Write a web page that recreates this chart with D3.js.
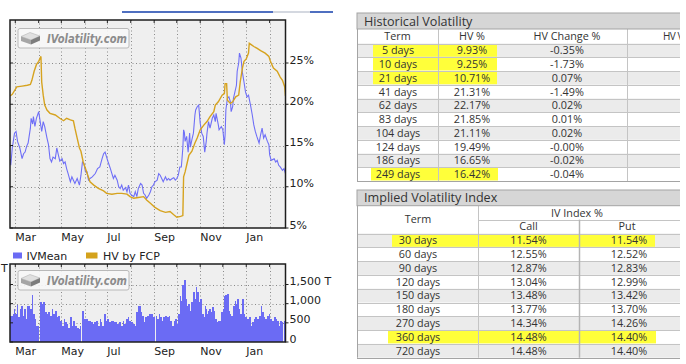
<!DOCTYPE html>
<html><head><meta charset="utf-8">
<script src="https://cdn.jsdelivr.net/npm/d3@7"></script>
<style>body{margin:0;background:#fff}svg{display:block}</style>
</head><body>
<svg id="c" width="686" height="364"></svg>
<script>
// ---------------- DATA ----------------
const startDate = new Date(2023, 1, 22);
const endDate = new Date(2024, 1, 22);
const xTickLabels = ["Mar", "May", "Jul", "Sep", "Nov", "Jan"];
const volTickValues = [0, 500, 1000, 1500];
const volTickLabels = ["0", "500", "1,000", "1,500 T"];
const pctTickValues = [5, 10, 15, 20, 25];
const pctTickLabels = ["5%", "10%", "15%", "20%", "25%"];
const legendNames = ["IVMean", "HV by FCP"];

// days after startDate
const hvDays = [0,3,9,16,23,27,29,32,35,38,41,42,44,46,49,53,60,66,71,75,80,84,86,89,92,94,97,100,103,106,111,117,124,128,135,142,148,155,159,164,170,177,181,186,192,199,206,212,217,221,226,229,230,232,235,237,241,245,248,252,257,261,265,270,272,276,281,284,285,287,288,292,295,299,303,305,308,310,313,316,317,320,323,327,332,338,343,345,349,354,358,361,364,365];
const hvValues = [21.0,21.2,22.1,22.2,22.3,22.4,22.9,24.0,24.8,25.2,25.8,22.7,21.1,19.9,19.3,18.9,18.7,18.3,18.0,18.3,18.1,18.0,17.1,15.9,14.7,14.3,13.0,12.2,11.4,10.6,10.2,9.8,9.5,9.2,9.1,9.2,9.2,9.1,8.8,8.6,8.7,8.8,8.4,8.0,7.5,7.1,6.9,7.0,6.6,6.3,6.4,6.5,11.2,11.8,13.0,13.8,14.3,15.3,15.9,16.9,17.5,17.9,18.5,19.1,19.9,20.3,21.1,21.3,22.5,22.5,20.5,20.1,20.3,20.9,21.1,22.7,24.4,25.2,25.5,26.2,27.4,27.2,27.0,26.8,26.5,26.2,25.8,25.2,24.4,24.0,23.3,22.9,22.1,21.0];

const ivDays = [0,1,3,6,8,10,13,16,18,20,22,24,27,28,30,31,33,35,38,40,42,44,46,49,51,53,55,57,60,62,64,66,69,71,73,75,77,80,82,84,86,89,92,94,96,98,100,102,104,106,109,113,116,119,122,124,126,128,130,133,135,137,139,142,144,146,148,150,153,155,157,159,161,164,166,168,170,173,175,177,179,181,184,186,188,190,192,195,197,199,201,203,206,208,210,212,215,217,219,221,223,225,227,229,230,231,232,234,236,238,239,241,243,245,246,248,250,252,254,256,258,260,261,263,265,268,270,272,273,276,277,280,282,284,285,286,288,290,292,293,295,296,298,300,301,303,304,306,308,310,312,314,316,319,321,323,325,327,330,332,334,336,338,341,343,344,346,350,352,354,356,358,361,363,365];
const ivValues = [13.4,12.6,14.7,16.5,16.7,15.5,14.7,13.4,14.0,14.2,14.9,15.3,17.1,18.3,17.6,18.5,17.3,18.3,19.1,17.9,16.7,17.9,17.3,15.9,15.1,13.4,13.0,13.6,13.4,14.7,13.9,13.1,13.4,12.8,13.0,12.2,11.6,10.6,11.2,10.8,10.4,11.0,10.2,11.4,13.0,12.8,11.8,11.8,10.8,11.0,11.2,11.6,12.2,12.4,13.4,14.0,14.2,13.6,13.0,12.2,11.6,11.0,11.4,10.8,10.0,9.8,10.2,9.6,9.9,9.4,10.2,9.2,9.0,8.8,9.4,8.8,9.8,10.4,10.2,9.2,9.0,8.6,9.0,9.4,10.0,10.2,10.6,10.8,11.6,11.4,11.0,10.6,11.2,10.8,11.0,10.8,11.0,11.1,10.8,11.0,11.4,12.4,12.4,14.7,16.9,16.6,15.5,16.1,14.2,16.5,14.8,15.7,16.5,18.7,19.3,19.7,19.9,17.7,16.5,16.1,14.2,15.5,16.5,17.9,17.1,18.3,18.7,17.9,18.9,17.5,16.9,17.3,16.9,15.1,16.3,19.3,20.7,20.9,20.3,19.1,19.7,20.7,21.5,22.3,24.0,25.0,26.2,25.6,23.8,22.7,21.5,20.9,21.1,19.7,18.7,17.5,16.7,16.1,15.3,16.3,17.1,15.9,16.3,15.5,15.1,13.9,13.2,13.4,13.0,13.2,12.6,12.4,12.0,12.2,11.6];

const volDays = [0,4,5,7,9,11,13,15,17,19,21,23,26,27,29,31,33,35,38,40,42,44,46,49,51,53,55,57,60,62,64,66,69,71,73,75,77,80,82,84,86,89,91,93,94,96,98,101,103,105,107,110,111,114,116,119,120,122,124,125,127,129,131,134,136,138,141,142,145,147,150,151,154,156,158,160,163,165,167,169,170,173,175,177,179,181,184,186,188,190,192,193,195,197,199,201,203,206,208,210,212,215,217,219,221,223,225,227,228,230,231,233,235,236,238,239,240,242,243,245,246,248,250,252,254,257,258,260,261,262,264,266,268,270,272,274,276,279,280,282,284,285,288,290,292,293,295,296,298,300,301,303,305,308,310,312,314,316,319,321,323,325,327,330,332,334,336,338,341,343,345,347,350,352,354,356,358,361,362,363];
const volValues = [680,730,860,730,965,640,860,945,680,860,600,945,1080,860,1230,730,600,420,0,1035,990,1035,770,730,790,680,860,730,815,640,680,555,420,600,510,465,375,640,420,555,420,375,335,420,0,815,600,600,555,555,510,465,510,555,420,600,510,420,945,730,555,600,510,555,555,510,525,465,510,420,555,465,600,640,555,510,465,420,770,1035,945,770,680,510,640,680,730,730,730,640,0,680,600,730,640,555,640,680,640,680,555,420,555,600,465,730,1210,1080,1475,1780,1605,1125,945,990,600,815,1035,1385,1300,1125,1430,1300,1035,1125,730,640,945,860,730,815,860,770,905,815,600,510,555,730,770,860,1210,1230,1255,815,730,680,860,945,1080,990,1125,860,730,1125,730,640,600,640,420,510,600,640,600,680,945,770,640,600,680,730,600,555,640,600,555,420,555,510,0,555];

// tables
const hvColumns = ["Term", "HV %", "HV Change %", "HV Volatility"];
const hvTerms = ["5 days","10 days","21 days","41 days","62 days","83 days","104 days","124 days","186 days","249 days"];
const hvPct = ["9.93%","9.25%","10.71%","21.31%","22.17%","21.85%","21.11%","19.49%","16.65%","16.42%"];
const hvChange = ["-0.35%","-1.73%","0.07%","-1.49%","0.02%","0.01%","0.02%","-0.00%","-0.02%","-0.04%"];
const hvHighlightRows = [0, 1, 2, 9];
const ivTerms = ["30 days","60 days","90 days","120 days","150 days","180 days","270 days","360 days","720 days"];
const ivCall = ["11.54%","12.55%","12.87%","13.04%","13.48%","13.77%","14.34%","14.48%","14.48%"];
const ivPut = ["11.54%","12.52%","12.83%","12.99%","13.42%","13.70%","14.26%","14.40%","14.40%"];
const ivHighlightRows = [0, 7];

// ---------------- DRAW ----------------
const svg = d3.select("#c");
const cf = "'DejaVu Sans', Verdana, sans-serif";
const tf = "'Open Sans', 'Noto Sans', sans-serif";
const IVC = "#6f6ff7", HVC = "#d6a31f", BARC = "#6b6bf4";
const day = d => d3.timeDay.offset(startDate, d);

// top scroll line
[[122, 273, "#4f6fc0"], [273, 310, "#d4d8e0"], [310, 333, "#4f6fc0"]].forEach(s =>
  svg.append("line").attr("x1", s[0]).attr("x2", s[1]).attr("y1", 12).attr("y2", 12)
    .attr("stroke", s[2]).attr("stroke-width", 2));

const x = d3.scaleTime().domain([startDate, endDate]).range([10, 285.5]);
const PL = 10, PR = 285.5;
const months = d3.timeMonth.range(d3.timeMonth.ceil(startDate), endDate);
const fmtM = d3.timeFormat("%b");
const labelMonths = months.filter(m => xTickLabels.includes(fmtM(m)));

function logo(g, lx, ly) {
  const lg = g.append("g").attr("transform", `translate(${lx},${ly})`);
  lg.append("rect").attr("width", 111).attr("height", 19.5).attr("rx", 2)
    .attr("fill", "#f7f7f7").attr("fill-opacity", 0.9).attr("stroke", "#b9b9b9");
  lg.append("polygon").attr("points", "3,8 12,4 22,7.5 13,11.5").attr("fill", "#e0e0e0").attr("stroke", "#aaa").attr("stroke-width", 0.5);
  lg.append("polygon").attr("points", "3,8 13,11.5 13,16 3,12.5").attr("fill", "#a6a6a6");
  lg.append("polygon").attr("points", "13,11.5 22,7.5 22,12 13,16").attr("fill", "#7d7d7d");
  lg.append("text").attr("x", 29).attr("y", 14.5).text("IVolatility.com")
    .attr("font-family", cf).attr("font-size", 12).attr("font-weight", "bold").attr("font-style", "italic")
    .attr("fill", "#8c8c8c").attr("textLength", 80).attr("lengthAdjust", "spacingAndGlyphs");
}

function panel(top, bottom, yScale, yTicks, yLabels, gridTicks) {
  const g = svg.append("g");
  g.append("rect").attr("x", PL).attr("y", top).attr("width", PR - PL).attr("height", bottom - top).attr("fill", "#efefef");
  g.selectAll(".vg").data(months).join("line")
    .attr("x1", d => Math.round(x(d)) + 0.5).attr("x2", d => Math.round(x(d)) + 0.5)
    .attr("y1", top).attr("y2", bottom).attr("stroke", "#8a8a8a").attr("stroke-dasharray", "1,2.5");
  g.selectAll(".hg").data(gridTicks).join("line")
    .attr("x1", PL).attr("x2", PR).attr("y1", d => Math.round(yScale(d)) + 0.5).attr("y2", d => Math.round(yScale(d)) + 0.5)
    .attr("stroke", "#8a8a8a").attr("stroke-dasharray", "1,2.5");
  return g;
}
function frame(g, top, bottom, yScale, yTicks, yLabels, labelY) {
  g.append("rect").attr("x", PL).attr("y", top).attr("width", PR - PL).attr("height", bottom - top)
    .attr("fill", "none").attr("stroke", "#1e1e1e").attr("stroke-width", 1.5);
  g.selectAll(".tt").data(months).join("line")
    .attr("x1", d => x(d)).attr("x2", d => x(d)).attr("y1", top).attr("y2", top + 3).attr("stroke", "#1e1e1e");
  g.selectAll(".lt").data(yTicks).join("line")
    .attr("x1", PL).attr("x2", PL + 3).attr("y1", d => yScale(d)).attr("y2", d => yScale(d)).attr("stroke", "#1e1e1e");
  g.selectAll(".rt").data(yTicks).join("line")
    .attr("x1", PR).attr("x2", PR + 3).attr("y1", d => yScale(d)).attr("y2", d => yScale(d)).attr("stroke", "#1e1e1e");
  g.selectAll(".yl").data(yTicks).join("text")
    .attr("x", PR + 4).attr("y", d => yScale(d) + 0.5).text((d, i) => yLabels[i])
    .attr("font-family", cf).attr("font-size", 11).attr("fill", "#222");
  g.selectAll(".xl").data(labelMonths).join("text")
    .attr("x", d => x(d)).attr("y", labelY).text(d => fmtM(d))
    .attr("font-family", cf).attr("font-size", 11).attr("fill", "#222");
}

// main chart
const MT = 20, MB = 228;
const y = d3.scaleLinear().domain([5, 25]).range([MB, 63]);
const gm = panel(MT, MB, y, pctTickValues, pctTickLabels, pctTickValues.slice(1));
logo(gm, 18, 28.5);
svg.append("clipPath").attr("id", "cm").append("rect").attr("x", PL).attr("y", MT).attr("width", PR - PL).attr("height", MB - MT);
const line = d3.line().x(d => x(day(d[0]))).y(d => y(d[1]));
gm.append("path").datum(ivDays.map((d, i) => [d, ivValues[i]])).attr("d", line)
  .attr("fill", "none").attr("stroke", IVC).attr("stroke-width", 1.1).attr("clip-path", "url(#cm)");
gm.append("path").datum(hvDays.map((d, i) => [d, hvValues[i]])).attr("d", line)
  .attr("fill", "none").attr("stroke", HVC).attr("stroke-width", 1.4).attr("clip-path", "url(#cm)");
frame(gm, MT, MB, y, pctTickValues, pctTickLabels, 241);

// legend
const leg = svg.append("g");
[[13, IVC, 26.5], [86, HVC, 103]].forEach((l, i) => {
  leg.append("rect").attr("x", l[0]).attr("y", 252.5).attr("width", i ? 11.5 : 9).attr("height", 6).attr("fill", i ? "#d4a21c" : BARC);
  leg.append("text").attr("x", l[2]).attr("y", 259.5).text(legendNames[i])
    .attr("font-family", cf).attr("font-size", 11).attr("fill", "#222");
});

// volume chart
const VT = 264, VB = 342;
const yv = d3.scaleLinear().domain([0, 1500]).range([VB, 284.5]);
const gv = panel(VT, VB, yv, volTickValues, volTickLabels, volTickValues.slice(1));
gv.selectAll(".bar").data(volDays).join("rect")
  .attr("x", d => x(day(d)))
  .attr("width", (d, i) => (i < volDays.length - 1 ? x(day(volDays[i + 1])) : PR) - x(day(d)))
  .attr("y", (d, i) => yv(volValues[i])).attr("height", (d, i) => VB - yv(volValues[i]))
  .attr("fill", BARC).attr("shape-rendering", "crispEdges");
logo(gv, 18, 270.5);
frame(gv, VT, VB, yv, volTickValues, volTickLabels, 355);
svg.append("text").attr("x", 1).attr("y", 272).text("T").attr("font-family", cf).attr("font-size", 11).attr("fill", "#222");

// ---------------- TABLES ----------------
svg.append("clipPath").attr("id", "ct").append("rect").attr("x", 0).attr("y", 0).attr("width", 680).attr("height", 364);
const tg = svg.append("g").attr("clip-path", "url(#ct)");
const TL = 357, TR = 700;
const LINE = "#c4c4c4", BORDER = "#a4a4a4", ALT = "#ebebeb", YEL = "#ffff3a", TXT = "#333";
function txt(g, xx, yy, s, anchor, size) {
  return g.append("text").attr("x", xx).attr("y", yy).attr("dy", "0.36em").text(s)
    .attr("text-anchor", anchor || "middle").attr("font-family", tf).attr("font-size", size || 10.8).attr("fill", TXT);
}
function title(g, t0, t1, s) {
  g.append("rect").attr("x", TL).attr("y", t0).attr("width", TR - TL).attr("height", t1 - t0)
    .attr("fill", "#d6d6d6").attr("stroke", BORDER);
  g.append("text").attr("x", TL + 7).attr("y", (t0 + t1) / 2).attr("dy", "0.36em").text(s)
    .attr("font-family", tf).attr("font-size", 12.6).attr("fill", TXT);
}

// Historical volatility
(function () {
  const g = tg.append("g");
  const T0 = 13, T1 = 29, H1 = 43.5, RH = 13.75;
  const rowsY = hvTerms.map((_, i) => H1 + i * RH);
  const B = H1 + hvTerms.length * RH;
  g.append("rect").attr("x", TL).attr("y", T1).attr("width", TR - TL).attr("height", B - T1).attr("fill", "#fff");
  g.selectAll(".alt").data(rowsY.filter((_, i) => i % 2 === 0)).join("rect")
    .attr("x", TL).attr("y", d => d).attr("width", TR - TL).attr("height", RH).attr("fill", ALT);
  g.selectAll(".hl").data(hvHighlightRows).join("rect")
    .attr("x", d => d === 9 ? 371 : 373).attr("y", d => rowsY[d] + 0.5).attr("width", d => d === 9 ? 127 : 124).attr("height", RH - 1).attr("fill", YEL);
  g.selectAll(".rl").data(rowsY.concat([B])).join("line")
    .attr("x1", TL).attr("x2", TR).attr("y1", d => Math.round(d) + 0.5).attr("y2", d => Math.round(d) + 0.5).attr("stroke", LINE);
  [438, 627].forEach(cx => g.append("line").attr("x1", cx + 0.5).attr("x2", cx + 0.5).attr("y1", T1).attr("y2", B).attr("stroke", LINE));
  g.append("line").attr("x1", TL + 0.5).attr("x2", TL + 0.5).attr("y1", T1).attr("y2", B).attr("stroke", BORDER);
  g.append("line").attr("x1", TL).attr("x2", TR).attr("y1", Math.round(B) + 0.5).attr("y2", Math.round(B) + 0.5).attr("stroke", BORDER);
  title(g, T0, T1, "Historical Volatility");
  const hy = (T1 + H1) / 2;
  txt(g, 397.5, hy, hvColumns[0]); txt(g, 472, hy, hvColumns[1]); txt(g, 567, hy, hvColumns[2]);
  txt(g, 663, hy, hvColumns[3], "start", 10).attr("letter-spacing", -0.5);
  hvTerms.forEach((t, i) => {
    const cy = rowsY[i] + RH / 2;
    txt(g, 398, cy, t); txt(g, 472, cy, hvPct[i]); txt(g, 567, cy, hvChange[i]);
  });
})();

// Implied volatility index
(function () {
  const g = tg.append("g");
  const T0 = 190, T1 = 205.7, HM = 219.6, H1 = 233.5, RH = 13.8;
  const rowsY = ivTerms.map((_, i) => H1 + i * RH);
  const B = H1 + ivTerms.length * RH;
  g.append("rect").attr("x", TL).attr("y", T1).attr("width", TR - TL).attr("height", B - T1).attr("fill", "#fff");
  g.selectAll(".alt").data(rowsY.filter((_, i) => i % 2 === 0)).join("rect")
    .attr("x", TL).attr("y", d => d).attr("width", TR - TL).attr("height", RH).attr("fill", ALT);
  g.selectAll(".hl").data(ivHighlightRows).join("rect")
    .attr("x", d => d === 0 ? 392 : 388).attr("y", d => rowsY[d] + 0.5).attr("width", d => d === 0 ? 263 : 268).attr("height", RH - 1).attr("fill", YEL);
  g.selectAll(".rl").data(rowsY).join("line")
    .attr("x1", TL).attr("x2", TR).attr("y1", d => Math.round(d) + 0.5).attr("y2", d => Math.round(d) + 0.5).attr("stroke", LINE);
  g.append("line").attr("x1", 478).attr("x2", TR).attr("y1", Math.round(HM) + 0.5).attr("y2", Math.round(HM) + 0.5).attr("stroke", LINE);
  g.append("line").attr("x1", 478.5).attr("x2", 478.5).attr("y1", T1).attr("y2", B).attr("stroke", LINE);
  g.append("line").attr("x1", 579.5).attr("x2", 579.5).attr("y1", HM).attr("y2", B).attr("stroke", "#b4b4b4").attr("stroke-width", 1.5);
  g.append("line").attr("x1", TL + 0.5).attr("x2", TL + 0.5).attr("y1", T1).attr("y2", B).attr("stroke", BORDER);
  g.append("line").attr("x1", TL).attr("x2", TR).attr("y1", Math.round(B) + 0.5).attr("y2", Math.round(B) + 0.5).attr("stroke", BORDER);
  title(g, T0, T1, "Implied Volatility Index");
  txt(g, 418, (T1 + H1) / 2, "Term");
  txt(g, 577, (T1 + HM) / 2, "IV Index %");
  txt(g, 528.5, (HM + H1) / 2, "Call");
  txt(g, 627, (HM + H1) / 2, "Put");
  ivTerms.forEach((t, i) => {
    const cy = rowsY[i] + RH / 2;
    txt(g, 418, cy, t); txt(g, 528.5, cy, ivCall[i]); txt(g, 629, cy, ivPut[i]);
  });
})();
</script>
</body></html>
